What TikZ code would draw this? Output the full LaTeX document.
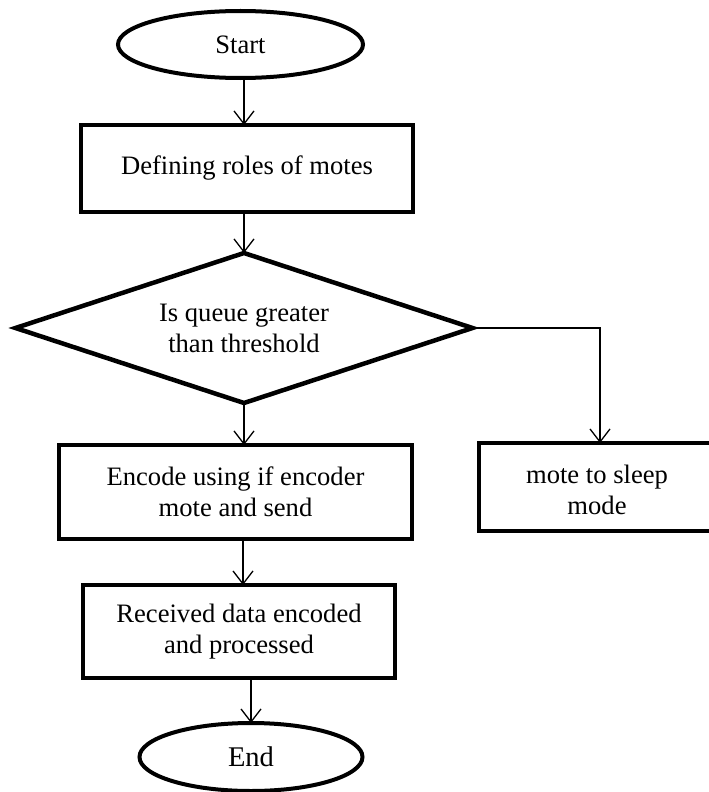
\documentclass[tikz,border=0pt]{standalone}
\usepackage{fontspec}
\setmainfont{Liberation Serif}
\usetikzlibrary{shapes.geometric,arrows.meta}
\begin{document}
\begin{tikzpicture}[x=1pt,y=-1pt,
  every node/.style={font=\fontsize{26.6}{31}\selectfont, align=center, inner sep=0pt, outer sep=0pt},
  procbox/.style={draw, line width=4pt, rectangle},
  termbox/.style={draw, line width=4pt, ellipse},
  decbox/.style={draw, line width=4.5pt, diamond, aspect=3},
  arr/.style={line width=1.3pt, -{Straight Barb[length=13pt,width=20pt,line width=1.3pt]}}
]
\useasboundingbox (0,0) rectangle (709,792);
\node[termbox, minimum width=245pt, minimum height=67pt] (start) at (240.5,44.5) {\raisebox{-2pt}{Start}};
\node[procbox, minimum width=332pt, minimum height=87pt] (r1) at (247,168.5) {Defining roles of motes};
\node[decbox, minimum width=457pt, minimum height=150pt] (d) at (244,328) {};
\node (dt) at (244,328) {Is queue greater\\than threshold};
\node[procbox, minimum width=353pt, minimum height=94pt] (b2) at (235.5,492) {Encode using if encoder\\mote and send};
\node[procbox, minimum width=242pt, minimum height=88pt] (b3) at (600,487) {};
\node (b3t) at (597,490) {mote to sleep\\mode};
\node[procbox, minimum width=312pt, minimum height=93pt] (rec) at (239,631.5) {Received data encoded\\and processed};
\node[termbox, minimum width=223pt, minimum height=68pt] (end) at (251,757) {\fontsize{28.5}{31}\selectfont End};
\draw[arr] (d.north |- start.south) -- (d.north |- r1.north);
\draw[arr] (d.north |- r1.south) -- (d.north);
\draw[arr] (d.south) -- (d.south |- b2.north);
\draw[arr] ([xshift=-1pt]d.south |- b2.south) -- ([xshift=-1pt]d.south |- rec.north);
\draw[arr] (end.north |- rec.south) -- (end.north);
\draw[arr] (d.east) -| (b3.north);
\end{tikzpicture}
\end{document}
